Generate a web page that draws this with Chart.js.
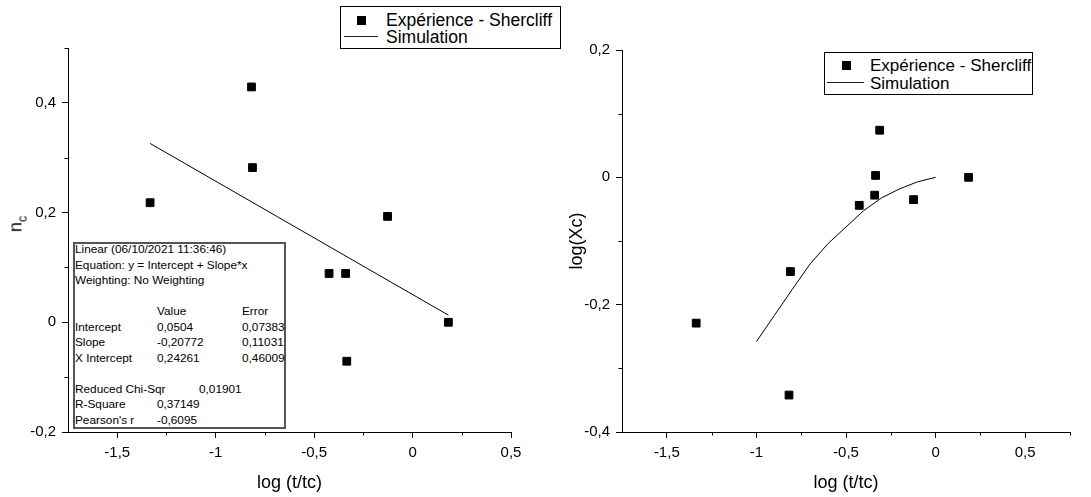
<!DOCTYPE html>
<html lang="fr">
<head>
<meta charset="utf-8">
<title>Expérience - Shercliff</title>
<script src="https://cdn.jsdelivr.net/npm/chart.js@4.4.1/dist/chart.umd.min.js"></script>
<style>
  html, body { margin: 0; padding: 0; background: #fff; }
  body { position: relative; width: 1091px; height: 497px; overflow: hidden; font-family: "Liberation Sans", Arial, sans-serif; color: #000; }
  canvas { position: absolute; top: 0; }
  #graphe-gauche { left: 0; }
  #graphe-droite { left: 560px; }
  .legende { position: absolute; box-sizing: border-box; border: 1px solid #000; background: #fff; font-size: 17px; z-index: 2; }
  .legende span { position: absolute; white-space: nowrap; line-height: 17px; }
  .legende .carre { width: 9px; height: 9px; background: #000; }
  .legende .trait { height: 1px; background: #222; }
  #stats { position: absolute; left: 73px; top: 242px; width: 213px; height: 187px; box-sizing: border-box; border: 2px solid #555; background: #fff; font-size: 11.8px; z-index: 2; }
  #stats span { position: absolute; white-space: nowrap; line-height: 15.5px; }
  #titre-nc { position: absolute; left: 19px; top: 224px; transform: translate(-50%, -50%) rotate(-90deg); font-size: 18px; white-space: nowrap; line-height: 20px; }
  #titre-nc sub { font-size: 12.5px; vertical-align: -5px; }
</style>
</head>
<body>
<canvas id="graphe-gauche" width="560" height="497"></canvas>
<canvas id="graphe-droite" width="531" height="497"></canvas>

<div id="titre-nc">n<sub>c</sub></div>

<div class="legende" style="left:340px; top:6px; width:221px; height:43px;">
  <span class="carre" style="left:16px; top:9px;"></span>
  <span style="left:45px; top:5px; font-size:17.5px;">Expérience - Shercliff</span>
  <span class="trait" style="left:3px; top:29px; width:34px;"></span>
  <span style="left:45px; top:22px; font-size:17.5px;">Simulation</span>
</div>

<div class="legende" style="left:824px; top:52px; width:209px; height:43px;">
  <span class="carre" style="left:17px; top:8px;"></span>
  <span style="left:45px; top:4px;">Expérience - Shercliff</span>
  <span class="trait" style="left:2px; top:29px; width:37px;"></span>
  <span style="left:45px; top:22px;">Simulation</span>
</div>

<div id="stats">
  <span style="left:0; top:-2px;">Linear (06/10/2021 11:36:46)</span>
  <span style="left:0; top:13.5px;">Equation: y = Intercept + Slope*x</span>
  <span style="left:0; top:29px;">Weighting: No Weighting</span>
  <span style="left:82px; top:60px;">Value</span>
  <span style="left:167px; top:60px;">Error</span>
  <span style="left:0; top:75.5px;">Intercept</span>
  <span style="left:82px; top:75.5px;">0,0504</span>
  <span style="left:167px; top:75.5px;">0,07383</span>
  <span style="left:0; top:91px;">Slope</span>
  <span style="left:82px; top:91px;">-0,20772</span>
  <span style="left:167px; top:91px;">0,11031</span>
  <span style="left:0; top:106.5px;">X Intercept</span>
  <span style="left:82px; top:106.5px;">0,24261</span>
  <span style="left:167px; top:106.5px;">0,46009</span>
  <span style="left:0; top:137.5px;">Reduced Chi-Sqr</span>
  <span style="left:124px; top:137.5px;">0,01901</span>
  <span style="left:0; top:153px;">R-Square</span>
  <span style="left:82px; top:153px;">0,37149</span>
  <span style="left:0; top:168.5px;">Pearson's r</span>
  <span style="left:82px; top:168.5px;">-0,6095</span>
</div>

<script>
// valeurs
const expGaucheX = [-1.333, -0.818, -0.813, -0.424, -0.340, -0.334, -0.127, 0.182];
const expGaucheY = [0.218, 0.429, 0.282, 0.089, 0.089, -0.071, 0.193, 0.000];
const droiteFitX = [-1.333, 0.182];
const droiteFitY = [0.326, 0.013];

const expDroiteX = [-1.336, -0.818, -0.810, -0.426, -0.340, -0.335, -0.312, -0.123, 0.184];
const expDroiteY = [-0.229, -0.342, -0.148, -0.044, -0.028, 0.003, 0.074, -0.035, 0.000];
const simX = [-1.0, -0.9, -0.8, -0.7, -0.6, -0.5, -0.4, -0.3, -0.2, -0.1, 0.0];
const simY = [-0.258, -0.217, -0.176, -0.136, -0.104, -0.078, -0.052, -0.032, -0.018, -0.007, 0.000];

// graduations principales (avec étiquette)
const xMajeurs = [-1.5, -1, -0.5, 0, 0.5];
const yMajeursGauche = [-0.2, 0, 0.2, 0.4];
const yMajeursDroite = [-0.4, -0.2, 0, 0.2];

const police = '"Liberation Sans", Arial, sans-serif';

document.addEventListener('DOMContentLoaded', () => {
  const paires = (xs, ys) => xs.map((x, i) => ({ x, y: ys[i] }));

  creerGraphe('graphe-gauche', {
    points: paires(expGaucheX, expGaucheY),
    courbe: paires(droiteFitX, droiteFitY),
    xMin: -1.75, xMax: 0.5, yMin: -0.2, yMax: 0.5,
    xMajeurs, yMajeurs: yMajeursGauche,
    largeurY: 68, hauteurX: 65,
    padding: { top: 48, right: 49, left: 0, bottom: 0 },
    titreY: ''
  });

  creerGraphe('graphe-droite', {
    points: paires(expDroiteX, expDroiteY),
    courbe: paires(simX, simY),
    xMin: -1.75, xMax: 0.75, yMin: -0.4, yMax: 0.2,
    xMajeurs, yMajeurs: yMajeursDroite,
    largeurY: 62, hauteurX: 65,
    padding: { top: 50, right: 21, left: 0, bottom: 0 },
    titreY: 'log(Xc)'
  });

  function creerGraphe(id, cfg) {
    const estMajeur = (v, liste) => liste.some(m => Math.abs(m - v) < 1e-6);
    const formater = v => String(Number(v.toFixed(2))).replace('.', ',');
    const couleurTick = liste => ctx => (ctx.tick && estMajeur(ctx.tick.value, liste)) ? '#000' : 'rgba(0,0,0,0)';

    // petites graduations intermédiaires
    const ticksMineurs = {
      id: 'ticksMineurs',
      afterDraw(chart) {
        const { ctx } = chart;
        const sx = chart.scales.x;
        const sy = chart.scales.y;
        ctx.save();
        ctx.strokeStyle = '#000';
        ctx.lineWidth = 1;
        ctx.beginPath();
        sx.ticks.forEach(t => {
          if (estMajeur(t.value, cfg.xMajeurs) || t.value === sx.min) return;
          const px = Math.round(sx.getPixelForValue(t.value)) + 0.5;
          ctx.moveTo(px, sx.top);
          ctx.lineTo(px, sx.top + 3.5);
        });
        sy.ticks.forEach(t => {
          if (estMajeur(t.value, cfg.yMajeurs)) return;
          const py = Math.round(sy.getPixelForValue(t.value)) + 0.5;
          ctx.moveTo(sy.right, py);
          ctx.lineTo(sy.right - 3.5, py);
        });
        ctx.stroke();
        ctx.restore();
      }
    };

    return new Chart(document.getElementById(id), {
      type: 'scatter',
      data: {
        datasets: [
          {
            label: 'Expérience - Shercliff',
            data: cfg.points,
            pointStyle: 'rect',
            pointRadius: 5.5,
            backgroundColor: '#000',
            borderColor: '#000',
            borderWidth: 1
          },
          {
            label: 'Simulation',
            data: cfg.courbe,
            showLine: true,
            pointRadius: 0,
            borderColor: '#000',
            borderWidth: 1,
            tension: 0,
            fill: false
          }
        ]
      },
      options: {
        responsive: false,
        animation: false,
        events: [],
        layout: { padding: cfg.padding },
        plugins: {
          legend: { display: false },
          tooltip: { enabled: false }
        },
        scales: {
          x: {
            type: 'linear',
            min: cfg.xMin,
            max: cfg.xMax,
            afterFit: s => { s.height = cfg.hauteurX; },
            ticks: {
              stepSize: 0.25,
              autoSkip: false,
              maxRotation: 0,
              color: '#000',
              padding: 6,
              font: { family: police, size: 15 },
              callback: v => estMajeur(v, cfg.xMajeurs) ? formater(v) : ''
            },
            grid: { drawOnChartArea: false, drawTicks: true, tickLength: 6, color: couleurTick(cfg.xMajeurs) },
            border: { display: true, color: '#000', width: 1 },
            title: {
              display: true,
              text: 'log (t/tc)',
              color: '#000',
              font: { family: police, size: 18 },
              padding: { top: 0, bottom: 3 }
            }
          },
          y: {
            type: 'linear',
            min: cfg.yMin,
            max: cfg.yMax,
            afterFit: s => { s.width = cfg.largeurY; },
            ticks: {
              stepSize: 0.1,
              autoSkip: false,
              color: '#000',
              padding: 6,
              font: { family: police, size: 15 },
              callback: v => estMajeur(v, cfg.yMajeurs) ? formater(v) : ''
            },
            grid: { drawOnChartArea: false, drawTicks: true, tickLength: 6, color: couleurTick(cfg.yMajeurs) },
            border: { display: true, color: '#000', width: 1 },
            title: {
              display: cfg.titreY !== '',
              text: cfg.titreY,
              color: '#000',
              font: { family: police, size: 18 },
              padding: { top: 6, bottom: 0 }
            }
          }
        }
      },
      plugins: [ticksMineurs]
    });
  }
});
</script>
</body>
</html>
